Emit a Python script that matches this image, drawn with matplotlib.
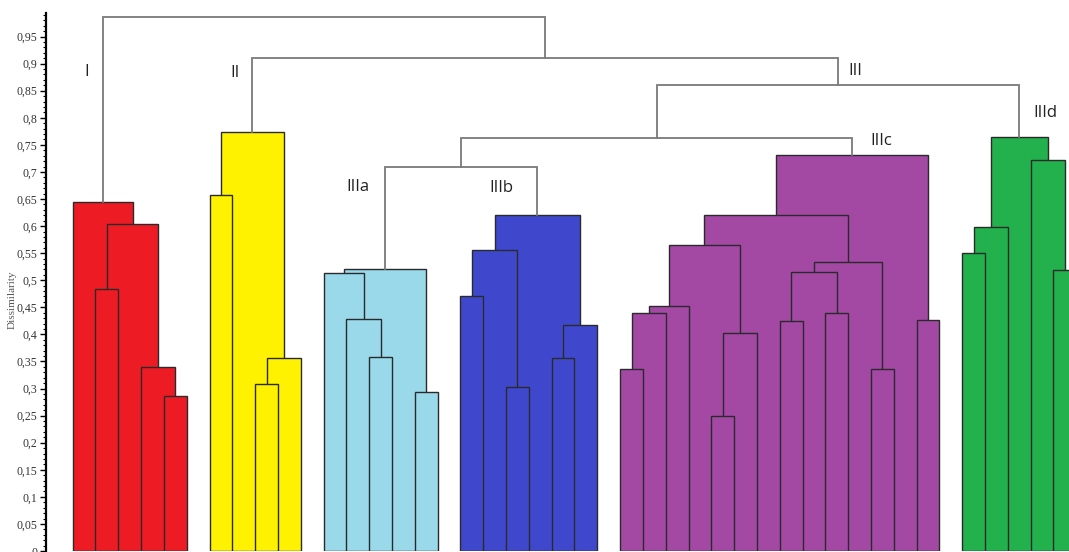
import matplotlib
matplotlib.use("Agg")
import matplotlib.pyplot as plt
from matplotlib.ticker import MultipleLocator, FuncFormatter

# ---------------- data ----------------
cluster_names = ["I", "II", "IIIa", "IIIb", "IIIc", "IIId"]
cluster_sizes = [6, 5, 6, 7, 15, 6]
cluster_colors = ["#ED1C24", "#FFF200", "#99D9EA", "#3F48CC", "#A349A4", "#22B14C"]

# merges inside each cluster: (left child, right child, dissimilarity)
# leaves are 0..n-1, the k-th merge creates node n+k
merges_I = [(4, 5, 0.286), (3, 6, 0.339), (1, 2, 0.484), (8, 7, 0.603), (0, 9, 0.645)]
merges_II = [(0, 1, 0.657), (2, 3, 0.308), (6, 4, 0.357), (5, 7, 0.774)]
merges_IIIa = [(2, 3, 0.358), (1, 6, 0.428), (0, 7, 0.513), (4, 5, 0.294), (8, 9, 0.520)]
merges_IIIb = [(0, 1, 0.470), (2, 3, 0.303), (7, 8, 0.555), (4, 5, 0.356),
               (10, 6, 0.417), (9, 11, 0.621)]
merges_IIIc = [(0, 1, 0.3355), (15, 2, 0.440), (16, 3, 0.453), (4, 5, 0.249),
               (18, 6, 0.403), (17, 19, 0.566), (7, 8, 0.425), (9, 10, 0.439),
               (21, 22, 0.516), (11, 12, 0.337), (23, 24, 0.534), (20, 25, 0.6205),
               (13, 14, 0.426), (26, 27, 0.731)]
merges_IIId = [(0, 1, 0.550), (6, 2, 0.599), (4, 5, 0.5195), (3, 8, 0.723), (7, 9, 0.765)]
cluster_merges = [merges_I, merges_II, merges_IIIa, merges_IIIb, merges_IIIc, merges_IIId]

# merges between clusters: clusters are nodes 0..5, k-th merge creates node 6+k
upper_merges = [(2, 3, 0.710), (6, 4, 0.762), (7, 5, 0.861), (1, 8, 0.910), (0, 9, 0.987)]

group_labels = ["I", "II", "III", "IIIa", "IIIb", "IIIc", "IIId"]
label_x = [0.63, 7.12, 34.30, 12.51, 18.81, 35.47, 42.63]
label_y = [0.885, 0.883, 0.886, 0.672, 0.670, 0.757, 0.809]

# ---------------- figure ----------------
fig = plt.figure(figsize=(10.69, 5.52), dpi=100)
ax = fig.add_axes([46 / 1069, 1 / 552, 1 - 46 / 1069, 537.7 / 552])

edge = "#2a2a2a"
link_col = "#7a7a7a"

cluster_top_x = []
cluster_top_h = []
offset = 0
for n, merges, col in zip(cluster_sizes, cluster_merges, cluster_colors):
    xs = [offset + i for i in range(n)]
    hs = [0.0] * n
    rects = []
    for a, b, h in merges:
        xa, xb = xs[a], xs[b]
        rects.append((xa, xb, h))
        xs.append((xa + xb) / 2)
        hs.append(h)
    # draw higher merges first so lower ones sit on top
    for xa, xb, h in sorted(rects, key=lambda r: -r[2]):
        ax.bar(xa, h, width=xb - xa, align="edge", color=col,
               edgecolor=edge, linewidth=1.0)
    cluster_top_x.append(xs[-1])
    cluster_top_h.append(hs[-1])
    offset += n

ux = list(cluster_top_x)
uh = list(cluster_top_h)
for a, b, h in upper_merges:
    ax.plot([ux[a], ux[a], ux[b], ux[b]], [uh[a], h, h, uh[b]],
            color=link_col, linewidth=1.3, solid_joinstyle="miter")
    ux.append((ux[a] + ux[b]) / 2)
    uh.append(h)

for t, x, y in zip(group_labels, label_x, label_y):
    ax.text(x, y, t, ha="center", va="center", fontsize=12,
            family="Open Sans", color="#222222")

ax.set_xlim(-1.17, 43.68)
ax.set_ylim(0, 0.993)

for s in ["top", "right", "bottom"]:
    ax.spines[s].set_visible(False)
ax.spines["left"].set_linewidth(1.6)
ax.spines["left"].set_color("black")
ax.set_xticks([])

ax.yaxis.set_major_locator(MultipleLocator(0.05))
ax.yaxis.set_minor_locator(MultipleLocator(0.01))


def fmt(v, pos):
    s = f"{v:.2f}".rstrip("0").rstrip(".")
    return s.replace(".", ",")


ax.yaxis.set_major_formatter(FuncFormatter(fmt))
ax.tick_params(axis="y", which="major", length=4, width=1, pad=2,
               labelsize=8.5, labelcolor="#333333")
ax.tick_params(axis="y", which="minor", length=2, width=0.8)
for lab in ax.get_yticklabels():
    lab.set_family("Liberation Serif")

fig.text(12 / 1069, 1 - 300 / 552, "Dissimilarity", rotation=90, ha="center",
         va="center", fontsize=8, family="Liberation Serif", color="#555555")

fig.savefig("out.png", dpi=100)
